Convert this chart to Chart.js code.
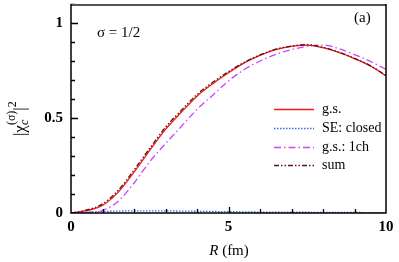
<!DOCTYPE html>
<html>
<head>
<meta charset="utf-8">
<script src="https://cdn.jsdelivr.net/npm/chart.js@4/dist/chart.umd.min.js"></script>
<style>
  html, body { margin: 0; padding: 0; background: #fff; }
  #wrap { width: 399px; height: 262px; }
</style>
</head>
<body>
<div id="wrap"><canvas id="c"></canvas></div>
<script>
// R (fm)
var radius = [0, 0.5, 1, 1.5, 2, 2.5, 3, 3.5, 4, 4.5, 5, 5.5, 6, 6.5, 7, 7.5, 8, 8.5, 9, 9.5, 10];

var groundState = [0, 0.012, 0.04, 0.11, 0.215, 0.33, 0.44, 0.53, 0.615, 0.68, 0.738,
    0.79, 0.83, 0.86, 0.877, 0.884, 0.87, 0.845, 0.812, 0.774, 0.722];
var seClosed = [0, 0.004, 0.008, 0.01, 0.011, 0.011, 0.011, 0.01, 0.009, 0.008, 0.007,
    0.006, 0.005, 0.005, 0.004, 0.004, 0.003, 0.003, 0.003, 0.002, 0.002];
var groundState1ch = [0, 0.003, 0.014, 0.062, 0.158, 0.27, 0.365, 0.455, 0.545, 0.62, 0.695,
    0.755, 0.80, 0.835, 0.86, 0.877, 0.884, 0.865, 0.834, 0.798, 0.756];
var sum = [0, 0.016, 0.048, 0.12, 0.226, 0.341, 0.451, 0.54, 0.624, 0.688, 0.744,
    0.793, 0.832, 0.862, 0.879, 0.886, 0.872, 0.847, 0.814, 0.776, 0.724];

var xTicks = [0, 5, 10];
var yTicks = [0, 0.5, 1];

function pts(ys) {
    return radius.map(function(r, i) { return { x: r, y: ys[i] }; });
}

var SERIF = '"Liberation Serif", "DejaVu Serif", serif';

var series = [
    { label: 'g.s.', data: groundState, color: '#ee1c1c', dash: [], order: 1 },
    { label: 'SE: closed', data: seClosed, color: '#3a66e8', dash: [1.5, 1.5], order: 3 },
    { label: 'g.s.: 1ch', data: groundState1ch, color: '#cc44ff', dash: [7, 3, 1.5, 3], order: 2 },
    { label: 'sum', data: sum, color: '#5c1414', dash: [5, 2, 1.5, 2, 1.5, 2], order: 0 }
];

// frame, inward ticks, legend and annotations
var decor = {
    id: 'decor',
    afterDatasetsDraw: function(chart) {
        var ctx = chart.ctx, a = chart.chartArea;
        var xs = chart.scales.x, ys = chart.scales.y;
        ctx.save();
        ctx.lineWidth = 1.3;
        ctx.setLineDash([]);

        // ticks
        ctx.strokeStyle = '#000';
        ctx.beginPath();
        for (var i = 1; i <= 11; i++) {
            var py = Math.round(ys.getPixelForValue(i / 10)) + 0.5;
            var len = (i % 5 === 0) ? 7 : 4;
            ctx.moveTo(a.left, py);
            ctx.lineTo(a.left + len, py);
        }
        for (var j = 1; j <= 9; j++) {
            var px = Math.round(xs.getPixelForValue(j)) + 0.5;
            var l2 = (j % 5 === 0) ? 6 : 4;
            ctx.moveTo(px, a.bottom);
            ctx.lineTo(px, a.bottom - l2);
        }
        ctx.stroke();

        // frame
        ctx.strokeStyle = '#555';
        ctx.lineWidth = 2;
        ctx.beginPath();
        ctx.moveTo(a.left, a.top + 1);
        ctx.lineTo(a.right, a.top + 1);
        ctx.stroke();
        ctx.strokeStyle = '#000';
        ctx.lineWidth = 1.5;
        ctx.beginPath();
        ctx.moveTo(a.left, a.top);
        ctx.lineTo(a.left, a.bottom);
        ctx.lineTo(a.right, a.bottom);
        ctx.lineTo(a.right, a.top);
        ctx.stroke();

        // legend
        ctx.font = '14px ' + SERIF;
        ctx.textBaseline = 'middle';
        ctx.fillStyle = '#000';
        var ly = [109, 128, 147, 165];
        series.forEach(function(s, k) {
            ctx.strokeStyle = s.color;
            ctx.lineWidth = 1.3;
            ctx.setLineDash(s.dash);
            ctx.beginPath();
            ctx.moveTo(274, ly[k] + 0.5);
            ctx.lineTo(314, ly[k] + 0.5);
            ctx.stroke();
            ctx.fillText(s.label, 322, ly[k]);
        });
        ctx.setLineDash([]);

        // annotations
        ctx.font = '15px ' + SERIF;
        ctx.fillText('\u03c3 = 1/2', 97, 33);
        ctx.fillText('(a)', 354, 18);

        // x axis title
        ctx.textBaseline = 'alphabetic';
        ctx.font = 'italic 15px ' + SERIF;
        var wR = ctx.measureText('R').width;
        ctx.font = '15px ' + SERIF;
        var wRest = ctx.measureText(' (fm)').width;
        var x0 = 229 - (wR + wRest) / 2;
        ctx.font = 'italic 15px ' + SERIF;
        ctx.fillText('R', x0, 255);
        ctx.font = '15px ' + SERIF;
        ctx.fillText(' (fm)', x0 + wR, 255);

        // y axis title, rotated
        var parts = [
            { t: '|\u03c7', f: '17px ', dy: 0 },
            { t: 'c', f: 'italic 12px ', dy: 3 },
            { t: '(\u03c3)', f: '12px ', dy: -10 },
            { t: '|', f: '17px ', dy: 0 },
            { t: '2', f: '12px ', dy: -9 }
        ];
        var tw = 0;
        parts.forEach(function(p) {
            ctx.font = p.f + SERIF;
            p.w = ctx.measureText(p.t).width;
            tw += p.w;
        });
        ctx.translate(25, 116);
        ctx.rotate(-Math.PI / 2);
        var cx = -tw / 2;
        parts.forEach(function(p, k) {
            ctx.font = p.f + SERIF;
            var off = (k === 2) ? -parts[1].w : 0;
            ctx.fillText(p.t, cx + off, p.dy);
            cx += p.w + off;
        });
        ctx.restore();
    }
};

new Chart(document.getElementById('c'), {
    type: 'line',
    data: {
        datasets: series.map(function(s) {
            return {
                label: s.label,
                data: pts(s.data),
                borderColor: s.color,
                borderDash: s.dash,
                borderWidth: 1.3,
                pointRadius: 0,
                fill: false,
                cubicInterpolationMode: 'monotone',
                order: s.order
            };
        })
    },
    options: {
        responsive: true,
        maintainAspectRatio: false,
        animation: false,
        layout: { padding: { top: 4, right: 13, left: 0, bottom: 0 } },
        plugins: { legend: { display: false }, tooltip: { enabled: false } },
        scales: {
            x: {
                type: 'linear',
                min: 0,
                max: 10,
                grid: { display: false, drawTicks: false },
                border: { display: false },
                afterBuildTicks: function(s) {
                    s.ticks = xTicks.map(function(v) { return { value: v }; });
                },
                afterFit: function(s) {
                    s.height = 49;
                    s.paddingLeft = 0;
                    s.paddingRight = 0;
                },
                ticks: {
                    color: '#000',
                    padding: 5,
                    maxRotation: 0,
                    font: { family: SERIF, size: 15, weight: 'bold' }
                }
            },
            y: {
                min: 0,
                max: 1.1,
                grid: { display: false, drawTicks: false },
                border: { display: false },
                afterBuildTicks: function(s) {
                    s.ticks = yTicks.map(function(v) { return { value: v }; });
                },
                afterFit: function(s) {
                    s.width = 71;
                    s.paddingTop = 0;
                    s.paddingBottom = 0;
                },
                ticks: {
                    color: '#000',
                    padding: 8,
                    font: { family: SERIF, size: 15, weight: 'bold' },
                    callback: function(v) { return String(v); }
                }
            }
        }
    },
    plugins: [decor]
});
</script>
</body>
</html>
